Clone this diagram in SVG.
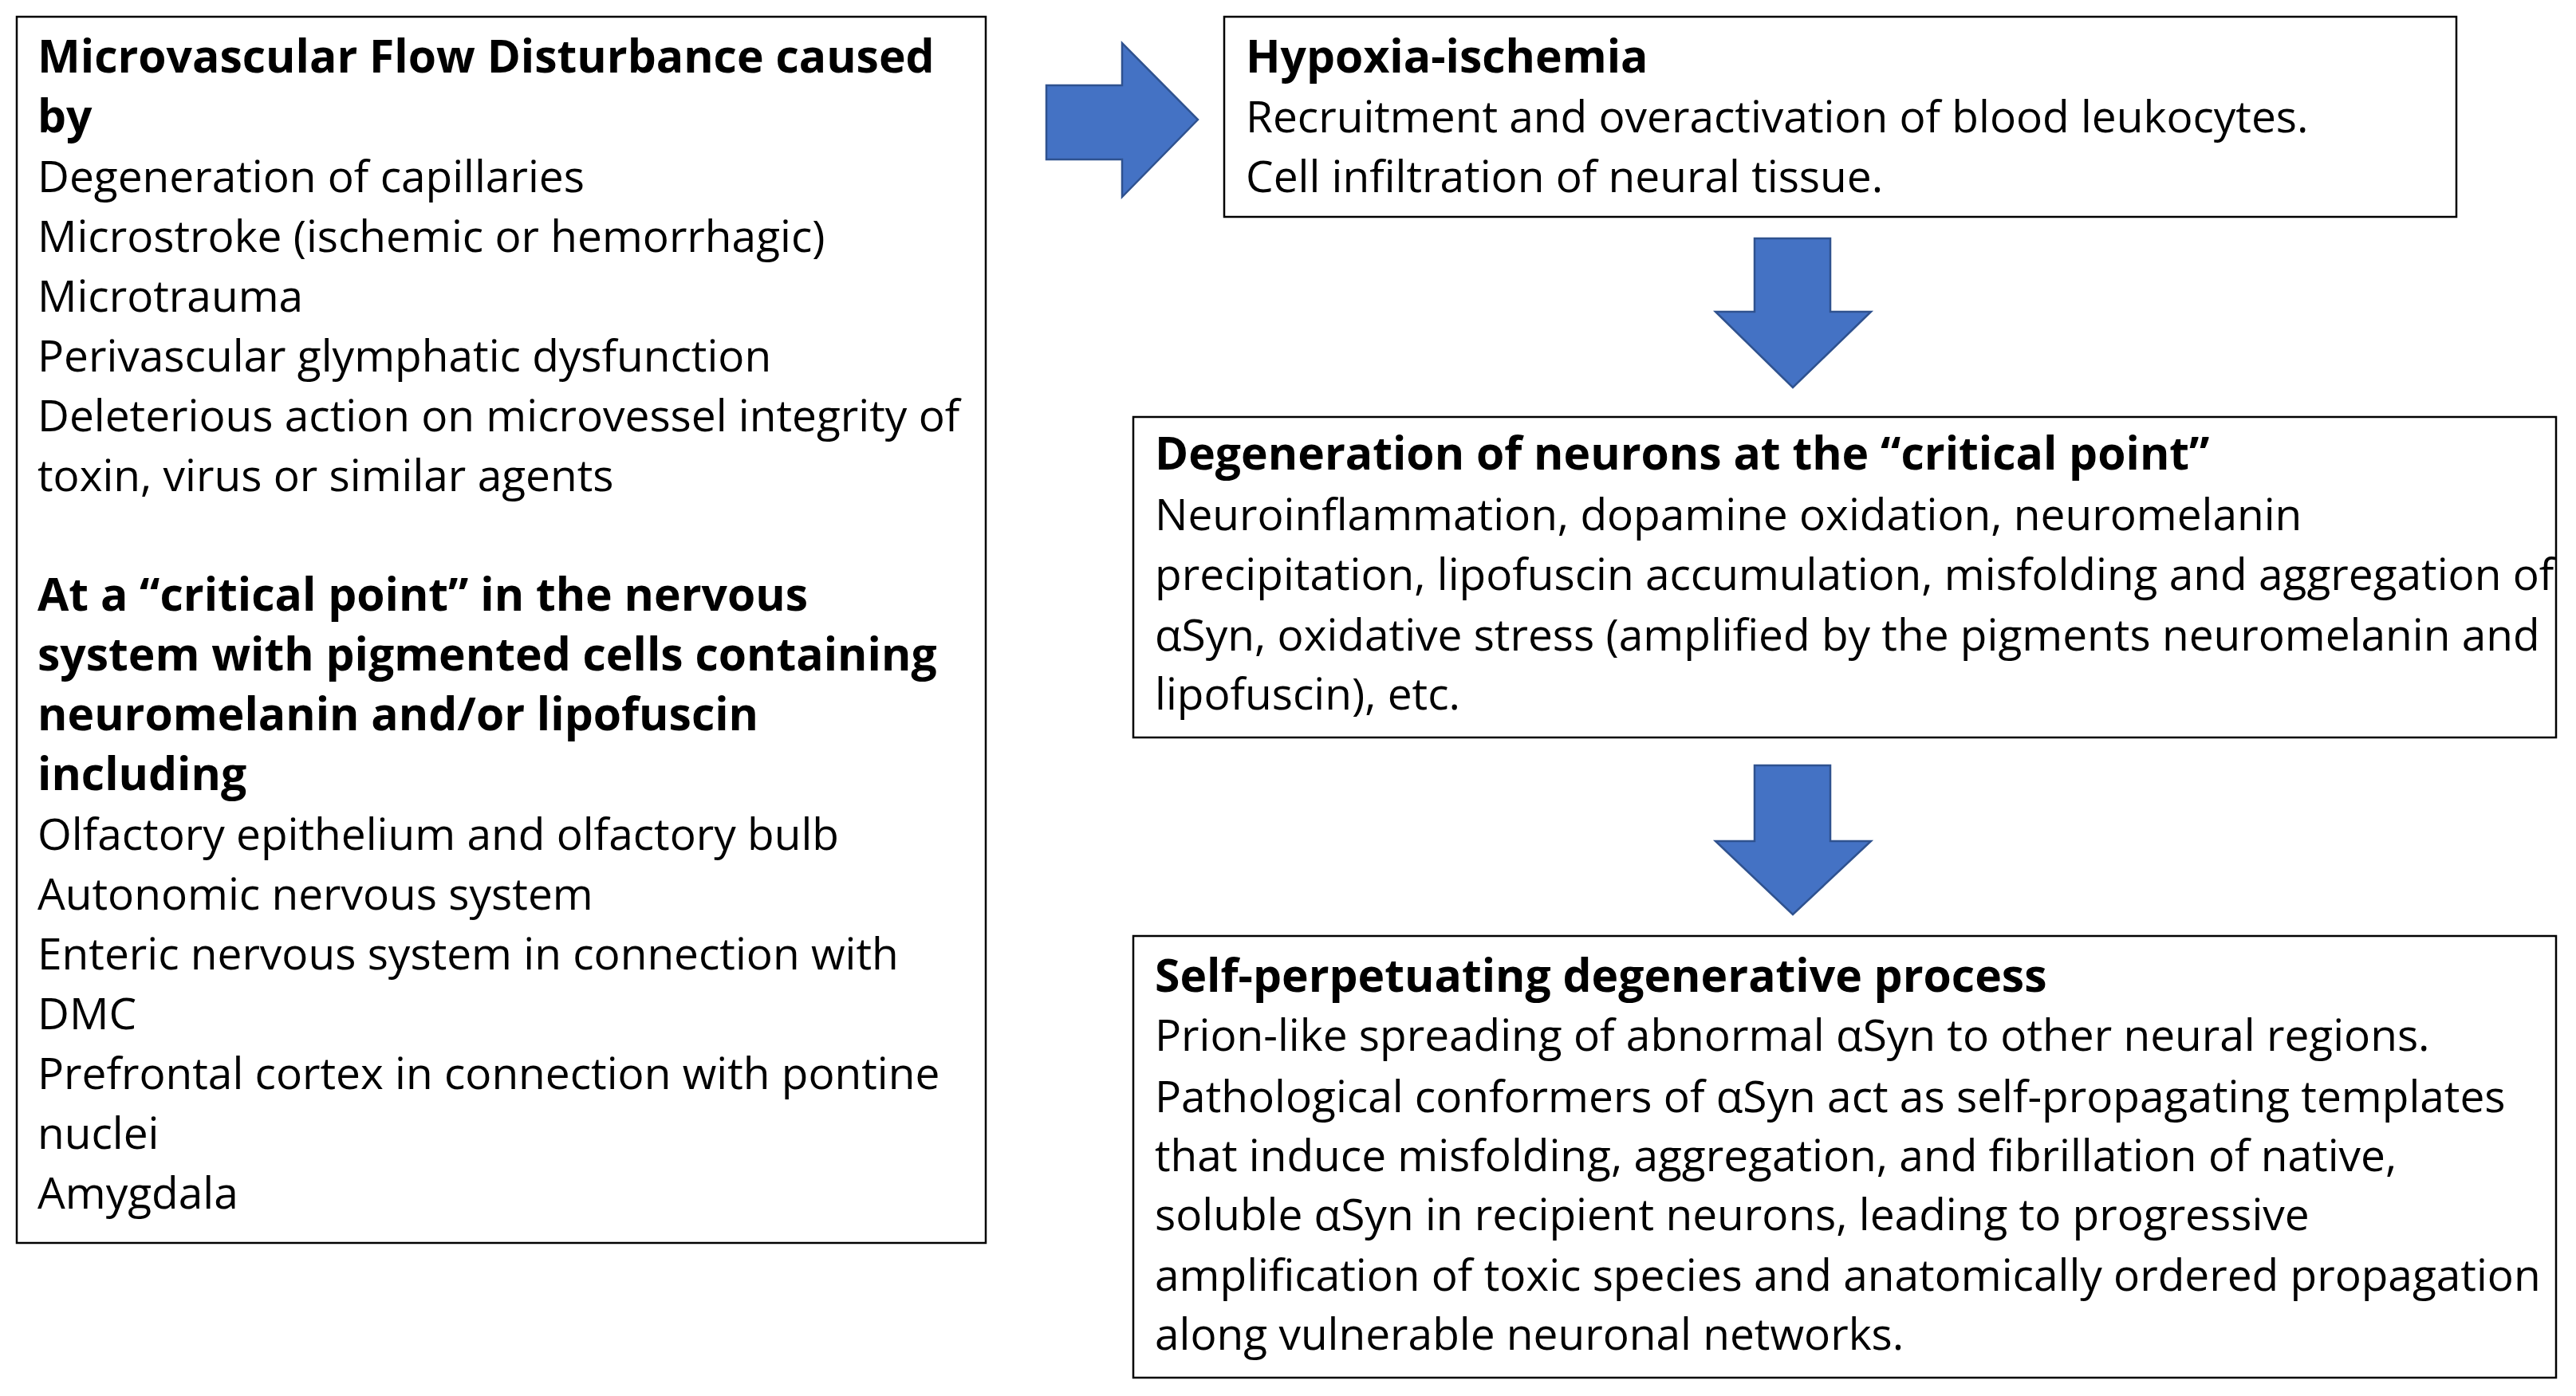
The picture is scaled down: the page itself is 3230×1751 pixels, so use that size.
<svg xmlns="http://www.w3.org/2000/svg" width="3230" height="1751" viewBox="0 0 3230 1751">
<style>
.box{fill:#fff;stroke:#000;stroke-width:2.5}
text{font-family:"Open Sans","Liberation Sans",sans-serif;font-size:55px;fill:#000}
.b{font-weight:bold;font-size:57px}
.arr{fill:#4472C4;stroke:#2F528F;stroke-width:2.5}
</style>
<rect width="3230" height="1751" fill="#fff"/>
<g id="left">
<rect class="box" x="21" y="21" width="1215" height="1538"/>
<text x="47" y="91" class="b">Microvascular Flow Disturbance caused</text>
<text x="47" y="166" class="b">by</text>
<text x="47" y="241">Degeneration of capillaries</text>
<text x="47" y="316">Microstroke (ischemic or hemorrhagic)</text>
<text x="47" y="391">Microtrauma</text>
<text x="47" y="466">Perivascular glymphatic dysfunction</text>
<text x="47" y="541">Deleterious action on microvessel integrity of</text>
<text x="47" y="616">toxin, virus or similar agents</text>
<text x="47" y="766" class="b">At a “critical point” in the nervous</text>
<text x="47" y="841" class="b">system with pigmented cells containing</text>
<text x="47" y="916" class="b">neuromelanin and/or lipofuscin</text>
<text x="47" y="991" class="b">including</text>
<text x="47" y="1066">Olfactory epithelium and olfactory bulb</text>
<text x="47" y="1141">Autonomic nervous system</text>
<text x="47" y="1216">Enteric nervous system in connection with</text>
<text x="47" y="1291">DMC</text>
<text x="47" y="1366">Prefrontal cortex in connection with pontine</text>
<text x="47" y="1441">nuclei</text>
<text x="47" y="1516">Amygdala</text>
</g>
<g id="hypoxia">
<rect class="box" x="1535" y="21" width="1545" height="251"/>
<text x="1562" y="91" class="b">Hypoxia-ischemia</text>
<text x="1562" y="166">Recruitment and overactivation of blood leukocytes.</text>
<text x="1562" y="241">Cell infiltration of neural tissue.</text>
</g>
<g id="degeneration">
<rect class="box" x="1421" y="523" width="1784" height="402"/>
<text x="1448" y="589" class="b">Degeneration of neurons at the “critical point”</text>
<text x="1448" y="665">Neuroinflammation, dopamine oxidation, neuromelanin</text>
<text x="1448" y="740">precipitation, lipofuscin accumulation, misfolding and aggregation of</text>
<text x="1448" y="816">αSyn, oxidative stress (amplified by the pigments neuromelanin and</text>
<text x="1448" y="890">lipofuscin), etc.</text>
</g>
<g id="selfperpetuating">
<rect class="box" x="1421" y="1174" width="1784" height="554"/>
<text x="1448" y="1244" class="b">Self-perpetuating degenerative process</text>
<text x="1448" y="1318">Prion-like spreading of abnormal αSyn to other neural regions.</text>
<text x="1448" y="1395">Pathological conformers of αSyn act as self-propagating templates</text>
<text x="1448" y="1469">that induce misfolding, aggregation, and fibrillation of native,</text>
<text x="1448" y="1543">soluble αSyn in recipient neurons, leading to progressive</text>
<text x="1448" y="1619">amplification of toxic species and anatomically ordered propagation</text>
<text x="1448" y="1693">along vulnerable neuronal networks.</text>
</g>
<g id="connectors">
<polygon class="arr" points="1312,107 1407,107 1407,54 1502,150 1407,247 1407,200 1312,200"/>
<polygon class="arr" points="2200,299 2295,299 2295,391 2346,391 2248,486 2151,391 2200,391"/>
<polygon class="arr" points="2200,960 2295,960 2295,1055 2346,1055 2248,1147 2151,1055 2200,1055"/>
</g>
</svg>
